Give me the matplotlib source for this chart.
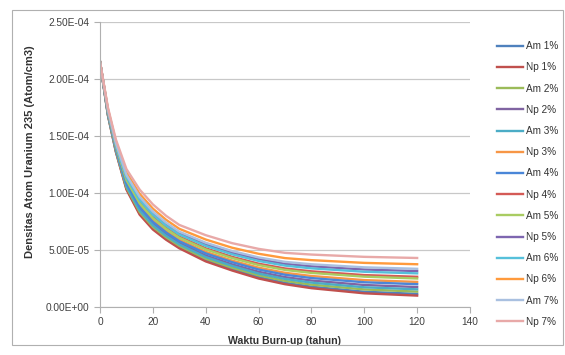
import numpy as np
import matplotlib
matplotlib.use("Agg")
import matplotlib.pyplot as plt
from matplotlib.patches import Rectangle

# burn-up time (years)
t = [0, 3, 6, 10, 15, 20, 25, 30, 40, 50, 60, 70, 80, 100, 120]

# U-235 atom density, units of 1e-5 atom/cm3
am1 = [21.5, 16.83, 13.65, 10.38, 8.20, 6.90, 5.99, 5.24, 4.10, 3.31, 2.62, 2.12, 1.78, 1.34, 1.15]
np1 = [21.5, 16.80, 13.60, 10.30, 8.10, 6.80, 5.90, 5.15, 4.00, 3.20, 2.50, 2.00, 1.65, 1.20, 1.00]
am2 = [21.5, 16.87, 13.72, 10.49, 8.33, 7.03, 6.12, 5.37, 4.24, 3.45, 2.78, 2.29, 1.96, 1.54, 1.35]
np2 = [21.5, 16.96, 13.85, 10.71, 8.60, 7.30, 6.38, 5.62, 4.52, 3.74, 3.09, 2.62, 2.32, 1.93, 1.75]
am3 = [21.5, 16.92, 13.78, 10.60, 8.47, 7.17, 6.25, 5.49, 4.38, 3.60, 2.93, 2.46, 2.14, 1.73, 1.55]
np3 = [21.5, 17.05, 14.00, 10.96, 8.90, 7.60, 6.66, 5.90, 4.84, 4.07, 3.45, 3.00, 2.72, 2.36, 2.20]
am4 = [21.5, 17.01, 13.93, 10.85, 8.77, 7.47, 6.54, 5.77, 4.70, 3.93, 3.29, 2.83, 2.54, 2.17, 2.00]
np4 = [21.5, 17.15, 14.15, 11.20, 9.20, 7.90, 6.95, 6.18, 5.15, 4.40, 3.80, 3.38, 3.13, 2.80, 2.65]
am5 = [21.5, 17.12, 14.10, 11.12, 9.10, 7.80, 6.86, 6.08, 5.05, 4.29, 3.68, 3.25, 2.99, 2.66, 2.50]
np5 = [21.5, 17.26, 14.32, 11.47, 9.53, 8.23, 7.27, 6.49, 5.50, 4.76, 4.20, 3.79, 3.57, 3.29, 3.15]
am6 = [21.5, 17.21, 14.25, 11.36, 9.40, 8.10, 7.14, 6.36, 5.36, 4.62, 4.04, 3.63, 3.39, 3.09, 2.95]
np6 = [21.5, 17.38, 14.52, 11.80, 9.93, 8.63, 7.65, 6.86, 5.92, 5.20, 4.67, 4.29, 4.11, 3.87, 3.75]
am7 = [21.5, 17.30, 14.38, 11.58, 9.67, 8.37, 7.40, 6.61, 5.64, 4.91, 4.35, 3.96, 3.75, 3.48, 3.35]
np7 = [21.5, 17.50, 14.70, 12.10, 10.30, 9.00, 8.00, 7.20, 6.30, 5.60, 5.10, 4.75, 4.60, 4.40, 4.30]

labels = ["Am 1%", "Np 1%", "Am 2%", "Np 2%", "Am 3%", "Np 3%", "Am 4%",
          "Np 4%", "Am 5%", "Np 5%", "Am 6%", "Np 6%", "Am 7%", "Np 7%"]
series = [am1, np1, am2, np2, am3, np3, am4, np4, am5, np5, am6, np6, am7, np7]
colors = ["#4F81BD", "#C0504D", "#9BBB59", "#8064A2", "#4BACC6", "#F79646",
          "#4A86D8", "#D45A56", "#A9CC62", "#7E66B0", "#56C0DA", "#FF9A3C",
          "#A9C0E0", "#E8A9A8"]

plt.rcParams['font.family'] = ['Liberation Sans', 'DejaVu Sans']

fig = plt.figure(figsize=(5.65, 3.55), dpi=100)
fig.patches.append(Rectangle((12/565, 10/355), 551/565, 335/355, transform=fig.transFigure,
                             fill=False, edgecolor="#b0b0b0", linewidth=0.8))
ax = fig.add_axes([100/565, 1 - 307/355, 370/565, 285/355])

for y, lab, c in zip(series, labels, colors):
    ax.plot(t, np.array(y) * 1e-5, color=c, linewidth=1.7, label=lab,
            solid_joinstyle='round')

ax.set_xlim(0, 140)
ax.set_ylim(0, 2.5e-4)
ax.set_xticks(range(0, 141, 20))
yt = np.arange(0, 2.51e-4, 5e-5)
ax.set_yticks(yt)
ax.set_yticklabels(["%.2E" % v for v in yt])
ax.grid(axis='y', color="#c8c8c8", linewidth=0.9)
ax.set_axisbelow(True)
for s in ["top", "right"]:
    ax.spines[s].set_visible(False)
for s in ["left", "bottom"]:
    ax.spines[s].set_color("#b0b0b0")
ax.tick_params(colors="#b0b0b0", labelcolor="#404040", labelsize=7.3, length=4)

ax.set_xlabel("Waktu Burn-up (tahun)", fontsize=7.6, fontweight='bold', color="#333333", labelpad=6)
ax.set_ylabel("Densitas Atom Uranium 235 (Atom/cm3)", fontsize=8, fontweight='bold',
              color="#333333", labelpad=6)
ax.yaxis.set_label_coords(-0.175, 0.545)

fig.legend(loc='center left', bbox_to_anchor=(488/565, 1 - 184/355), frameon=False,
           fontsize=7.2, handlelength=2.6, labelspacing=1.12, handletextpad=0.3,
           labelcolor="#333333")

plt.savefig("out.png", dpi=100)
